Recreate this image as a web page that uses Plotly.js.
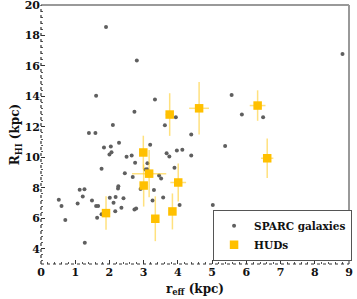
<!DOCTYPE html>
<html>
<head>
<meta charset="utf-8">
<script src="https://cdn.plot.ly/plotly-3.0.1.min.js"></script>
<style>html,body{margin:0;padding:0;background:#fff;}#chart{width:357px;height:299px;}</style>
</head>
<body>
<div id="chart"></div>
<script>
// SPARC galaxies: effective radius (kpc) and HI radius (kpc)
var sparcReff = [1.90,1.61,2.10,1.40,1.59,2.80,8.81,3.33,2.73,5.57,5.87,6.49,3.94,3.62,4.39,2.28,3.19,5.38,4.13,1.84,2.04,2.06,2.00,1.77,1.13,1.27,1.22,0.52,0.60,1.07,1.49,2.01,1.61,1.67,1.77,1.64,0.71,1.28,2.18,2.12,2.25,2.35,2.41,2.17,2.45,2.68,2.91,2.73,2.78,2.50,2.65,2.75,3.05,3.10,3.11,3.67,3.75,3.97,3.90,3.45,3.51,2.26,3.30,3.26,3.57,4.05,4.39,5.02];
var sparcRhi  = [18.55,14.05,12.13,11.60,11.60,16.35,16.79,13.80,12.99,14.10,12.81,12.64,12.63,12.11,11.50,10.96,10.83,10.74,10.50,10.64,10.72,10.34,10.19,9.26,7.87,7.90,7.43,7.22,6.80,6.97,7.17,7.35,6.80,6.80,6.27,6.03,5.88,4.39,7.40,7.02,7.95,6.69,7.32,6.46,8.95,8.71,7.92,6.58,6.64,10.04,10.12,9.64,9.20,9.22,9.62,10.27,10.05,10.45,9.31,8.81,8.61,8.11,7.85,7.17,7.36,6.87,10.12,6.87];

// HUDs with uncertainties
var hudReff    = [1.90,2.99,3.16,3.00,3.34,3.76,3.84,4.01,4.62,6.33,6.61];
var hudRhi     = [6.34,10.32,8.93,8.15,5.97,12.81,6.45,8.35,13.22,13.40,9.94];
var hudReffErr = [0.12,0.10,0.50,0.10,0.09,0.12,0.10,0.23,0.29,0.23,0.18];
var hudRhiErr  = [1.10,1.10,1.55,1.38,1.47,1.40,1.18,1.25,1.72,1.00,1.29];

var xTicks = [0,1,2,3,4,5,6,7,8,9];
var yTicks = [4,6,8,10,12,14,16,18,20];

var serif = 'DejaVu Serif';

var traces = [
  {
    type: 'scatter', mode: 'markers', name: 'SPARC galaxies',
    x: sparcReff, y: sparcRhi,
    marker: {color: '#5f5f5f', size: 4},
    cliponaxis: false
  },
  {
    type: 'scatter', mode: 'markers', name: 'HUDs',
    x: hudReff, y: hudRhi,
    error_x: {type: 'data', array: hudReffErr, visible: true, color: 'rgba(255,205,40,0.6)', thickness: 1.5, width: 0},
    error_y: {type: 'data', array: hudRhiErr, visible: true, color: 'rgba(255,205,40,0.6)', thickness: 1.5, width: 0},
    marker: {color: '#ffc000', size: 8.5, symbol: 'square'}
  }
];

var axisFont = {family: serif, size: 11, color: '#111', weight: 'bold'};

var layout = {
  width: 357, height: 299,
  margin: {l: 41, r: 5, t: 5, b: 35},
  paper_bgcolor: '#fff', plot_bgcolor: '#fff',
  showlegend: true,
  legend: {
    x: 0.558, y: 0.208, xanchor: 'left', yanchor: 'top',
    bordercolor: '#555', borderwidth: 1.2, bgcolor: '#fff',
    font: {family: serif, size: 10.5, color: '#111', weight: 'bold'},
    tracegroupgap: 0, itemwidth: 30
  },
  xaxis: {
    range: [0, 9], tickvals: xTicks, ticktext: xTicks.map(String),
    showgrid: false, zeroline: false, showline: false,
    ticks: 'inside', ticklen: 4, tickcolor: '#333',
    minor: {dtick: 0.2, ticks: 'inside', ticklen: 2, tickcolor: '#555'},
    tickfont: axisFont, ticklabeloverflow: 'allow',
    title: {text: 'r<sub>eff</sub> (kpc)', font: {family: serif, size: 12, color: '#111', weight: 'bold'}, standoff: 6}
  },
  yaxis: {
    range: [3, 20], tickvals: yTicks, ticktext: yTicks.map(String),
    showgrid: false, zeroline: false, showline: false,
    ticks: 'inside', ticklen: 4, tickcolor: '#333',
    minor: {dtick: 0.4, ticks: 'inside', ticklen: 2, tickcolor: '#555'},
    tickfont: axisFont, ticklabeloverflow: 'allow',
    title: {text: 'R<sub>HI</sub> (kpc)', font: {family: serif, size: 12, color: '#111', weight: 'bold'}, standoff: 2}
  },
  shapes: [
    {type: 'line', xref: 'paper', yref: 'paper', x0: 0, x1: 1, y0: 1, y1: 1, line: {color: '#999', width: 2}},
    {type: 'line', xref: 'paper', yref: 'paper', x0: 1, x1: 1, y0: 0, y1: 1, line: {color: '#999', width: 2}},
    {type: 'line', xref: 'paper', yref: 'paper', x0: 0, x1: 1, y0: 0, y1: 0, line: {color: '#333', width: 1.2, dash: 'dot'}},
    {type: 'line', xref: 'paper', yref: 'paper', x0: 0, x1: 0, y0: 0, y1: 1, line: {color: '#333', width: 1.2, dash: 'dot'}}
  ]
};

Plotly.newPlot('chart', traces, layout, {displayModeBar: false, staticPlot: true});
</script>
</body>
</html>
